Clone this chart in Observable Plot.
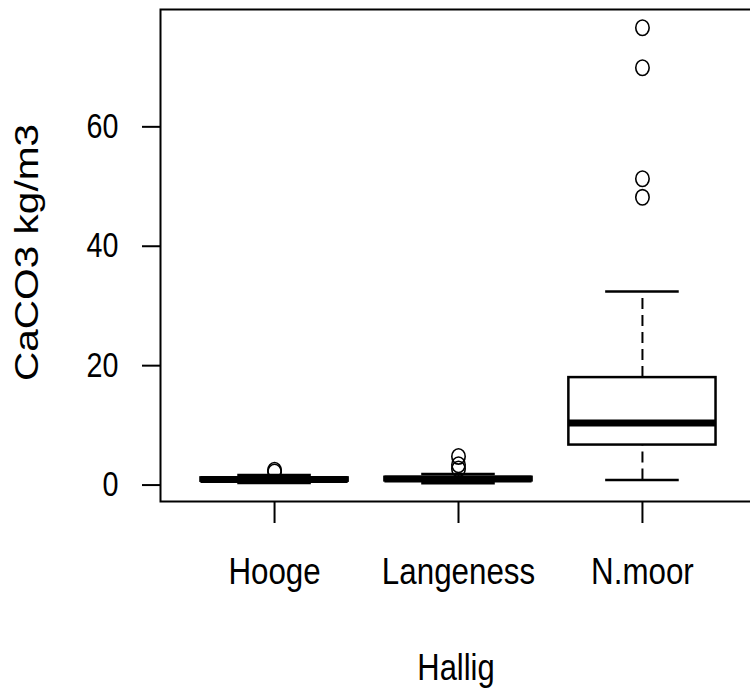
<!DOCTYPE html>
<html><head><meta charset="utf-8">
<script src="https://cdn.jsdelivr.net/npm/d3@7"></script>
<script src="https://cdn.jsdelivr.net/npm/@observablehq/plot@0.6"></script>
<style>body{margin:0;background:#fff}</style>
</head><body><div id="chart"></div>
<script>
// ---- data ----
const categories = ["Hooge", "Langeness", "N.moor"];
const whiskerLow  = [0.35, 0.3, 0.85];
const q1          = [0.65, 0.7, 6.7];
const median      = [0.95, 1.0, 10.4];
const q3          = [1.2, 1.3, 18.0];
const whiskerHigh = [1.7, 1.85, 32.4];
const outlierGroup = ["Hooge", "Hooge", "Langeness", "Langeness", "Langeness", "N.moor", "N.moor", "N.moor", "N.moor"];
const outlierValue = [2.2, 2.5, 2.7, 3.4, 4.8, 48.2, 51.3, 69.9, 76.6];
const yTicks = [0, 20, 40, 60];
const xTitle = "Hallig";
const yTitle = "CaCO3 kg/m3";

// ---- tables ----
const boxes = categories.map((c, i) => ({
  pos: i + 1, name: c, lo: whiskerLow[i], q1: q1[i], med: median[i], q3: q3[i], hi: whiskerHigh[i]
}));
const outs = outlierGroup.map((g, i) => ({pos: categories.indexOf(g) + 1, value: outlierValue[i]}));

const all = [...whiskerLow, ...whiskerHigh, ...outlierValue];
const lo = d3.min(all), hi = d3.max(all), pad = (hi - lo) * 0.04;
const n = categories.length;
const xpad = n * 0.04;
const boxHalf = 0.4, capHalf = 0.2;

const font = "'Liberation Sans', Arial, sans-serif";

// slightly tall ellipse, like the stretched R circles
const ellipse = {
  draw(context, size) {
    const r = Math.sqrt(size / Math.PI);
    const rx = r * 0.93, ry = r * 1.07, k = 0.5523;
    context.moveTo(rx, 0);
    context.bezierCurveTo(rx, ry * k, rx * k, ry, 0, ry);
    context.bezierCurveTo(-rx * k, ry, -rx, ry * k, -rx, 0);
    context.bezierCurveTo(-rx, -ry * k, -rx * k, -ry, 0, -ry);
    context.bezierCurveTo(rx * k, -ry, rx, -ry * k, rx, 0);
    context.closePath();
  }
};

const chart = Plot.plot({
  width: 750, height: 692,
  marginLeft: 160, marginTop: 9, marginBottom: 191, marginRight: -6,
  style: {fontFamily: font, fontSize: "36px", color: "black", background: "white", overflow: "hidden"},
  x: {domain: [0.5 - xpad, n + 0.5 + xpad]},
  y: {domain: [lo - pad, hi + pad]},
  marks: [
    Plot.axisY({ticks: yTicks, tickSize: 18, tickPadding: 24, strokeWidth: 2, label: null, fontSize: 35}),
    Plot.axisX({ticks: boxes.map(d => d.pos), tickFormat: d => categories[d - 1], tickSize: 22, tickPadding: 35, strokeWidth: 2, label: null, fontSize: 36}),
    // whiskers (dashed)
    Plot.ruleX(boxes, {x: "pos", y1: "q3", y2: "hi", stroke: "black", strokeWidth: 2, strokeDasharray: "11,6"}),
    Plot.ruleX(boxes, {x: "pos", y1: "lo", y2: "q1", stroke: "black", strokeWidth: 2, strokeDasharray: "11,6"}),
    // staples
    Plot.ruleY(boxes, {y: "hi", x1: d => d.pos - capHalf, x2: d => d.pos + capHalf, stroke: "black", strokeWidth: 2.5}),
    Plot.ruleY(boxes, {y: "lo", x1: d => d.pos - capHalf, x2: d => d.pos + capHalf, stroke: "black", strokeWidth: 2.5}),
    // boxes
    Plot.rect(boxes, {x1: d => d.pos - boxHalf, x2: d => d.pos + boxHalf, y1: "q1", y2: "q3", fill: "white", stroke: "black", strokeWidth: 2.5}),
    // medians
    Plot.ruleY(boxes, {y: "med", x1: d => d.pos - boxHalf, x2: d => d.pos + boxHalf, stroke: "black", strokeWidth: 7}),
    // outliers
    Plot.dot(outs, {x: "pos", y: "value", r: 7.2, symbol: ellipse, stroke: "black", strokeWidth: 1.6, fill: "none"}),
    // frame
    Plot.frame({stroke: "black", strokeWidth: 2}),
    // titles
    Plot.text([yTitle], {frameAnchor: "left", dx: -133, dy: -3, rotate: -90, textAnchor: "middle", lineAnchor: "middle", fontSize: 33, fill: "black"}),
    Plot.text([xTitle], {frameAnchor: "bottom", dx: -2.5, dy: 167, textAnchor: "middle", lineAnchor: "middle", fontSize: 36, fill: "black"})
  ]
});
document.getElementById("chart").appendChild(chart);

// the reference text is drawn narrow (horizontally compressed) and the rotated title long
function squeeze(test, f) {
  chart.querySelectorAll("text").forEach(el => {
    if (!test(el)) return;
    const L = el.getComputedTextLength();
    if (L > 0) {
      el.setAttribute("textLength", (L * f).toFixed(1));
      el.setAttribute("lengthAdjust", "spacingAndGlyphs");
    }
  });
}
const yTickLabels = yTicks.map(String);
squeeze(el => yTickLabels.includes(el.textContent.trim()), 0.82);
squeeze(el => categories.includes(el.textContent.trim()), 0.87);
squeeze(el => el.textContent.trim() === xTitle, 0.86);
squeeze(el => el.textContent.trim() === yTitle, 1.23);
</script>
</body></html>
